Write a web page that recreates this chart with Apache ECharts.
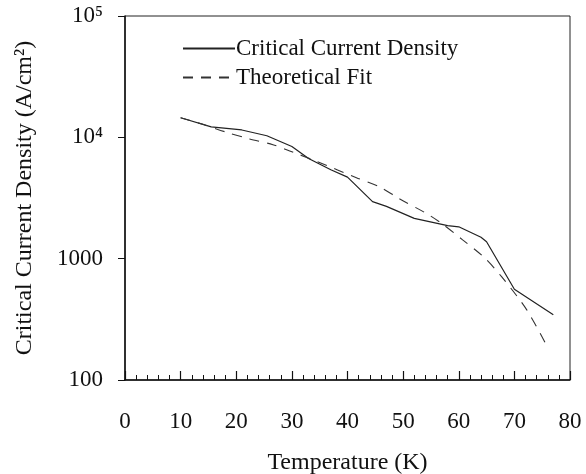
<!DOCTYPE html>
<html><head><meta charset="utf-8">
<script src="https://cdn.jsdelivr.net/npm/echarts@6/dist/echarts.min.js"></script>
<style>html,body{margin:0;padding:0;background:#fff}#c{width:586px;height:474px}</style>
</head><body><div id="c"></div>
<script>
var xTicks = [0,10,20,30,40,50,60,70,80];
var yTickLabels = {100:'100',1000:'1000',10000:'10\u2074',100000:'10\u2075'};
var measuredT = [10,15.5,21,25.5,30,33,37,40,44.5,47,52,58,60,64,65,70,77];
var measuredJc = [14500,12200,11500,10300,8400,6700,5400,4700,2950,2700,2150,1870,1830,1500,1380,560,345];
var fitT = [10,14,18,22.4,26.6,30,34.6,41.6,45.8,49.4,53.9,56.6,60.7,64.6,67.7,72.2,76];
var fitJc = [14500,12800,11100,9700,8700,7600,6300,4650,3900,3100,2400,2000,1430,1020,710,380,185];

function zip(a,b){return a.map(function(v,i){return [v,b[i]];});}
var font = '"Liberation Serif", "DejaVu Serif", serif';
var chart = echarts.init(document.getElementById('c'));
chart.setOption({
  animation:false,
  backgroundColor:'#fff',
  textStyle:{fontFamily:font,color:'#000'},
  grid:{left:125,right:16,top:16,bottom:94,show:true,borderColor:'#222',borderWidth:1,outerBoundsMode:'none',containLabel:false},
  legend:{
    orient:'vertical', left:177, top:32, itemWidth:52, itemHeight:10, itemGap:6,
    itemStyle:{opacity:0},
    textStyle:{fontFamily:font,fontSize:23,color:'#111',padding:[0,0,0,-4]},
    data:['Critical Current Density','Theoretical Fit']
  },
  xAxis:{
    type:'value', min:xTicks[0], max:xTicks[xTicks.length-1], interval:10,
    name:'Temperature (K)', nameLocation:'middle', nameGap:71,
    nameTextStyle:{fontFamily:font,fontSize:24,color:'#111'},
    axisLine:{lineStyle:{color:'#111',width:1.5}},
    axisTick:{inside:true,length:9,lineStyle:{color:'#111',width:1.2}},
    minorTick:{show:true,splitNumber:5,length:5,lineStyle:{color:'#111',width:1}},
    axisLabel:{fontFamily:font,fontSize:23,color:'#111',margin:30},
    splitLine:{show:false}
  },
  yAxis:{
    type:'log', logBase:10, min:100, max:100000,
    name:'Critical Current Density (A/cm\u00B2)', nameLocation:'middle', nameGap:88,
    nameTextStyle:{fontFamily:font,fontSize:24,color:'#111'},
    axisLine:{show:true,lineStyle:{color:'#111',width:1.5}},
    axisTick:{show:true,inside:false,length:7,lineStyle:{color:'#111'}},
    axisLabel:{fontFamily:font,fontSize:23,color:'#111',margin:22,
      formatter:function(v){return yTickLabels[Math.round(v)]||'';}},
    splitLine:{show:false}
  },
  series:[
    {name:'Critical Current Density',type:'line',symbol:'none',data:zip(measuredT,measuredJc),
     itemStyle:{color:'#222'},lineStyle:{color:'#222',width:1.2}},
    {name:'Theoretical Fit',type:'line',symbol:'none',data:zip(fitT,fitJc),smooth:0.3,
     itemStyle:{color:'#333'},lineStyle:{color:'#333',width:1.1,type:[10,8]}}
  ]
});
</script></body></html>
